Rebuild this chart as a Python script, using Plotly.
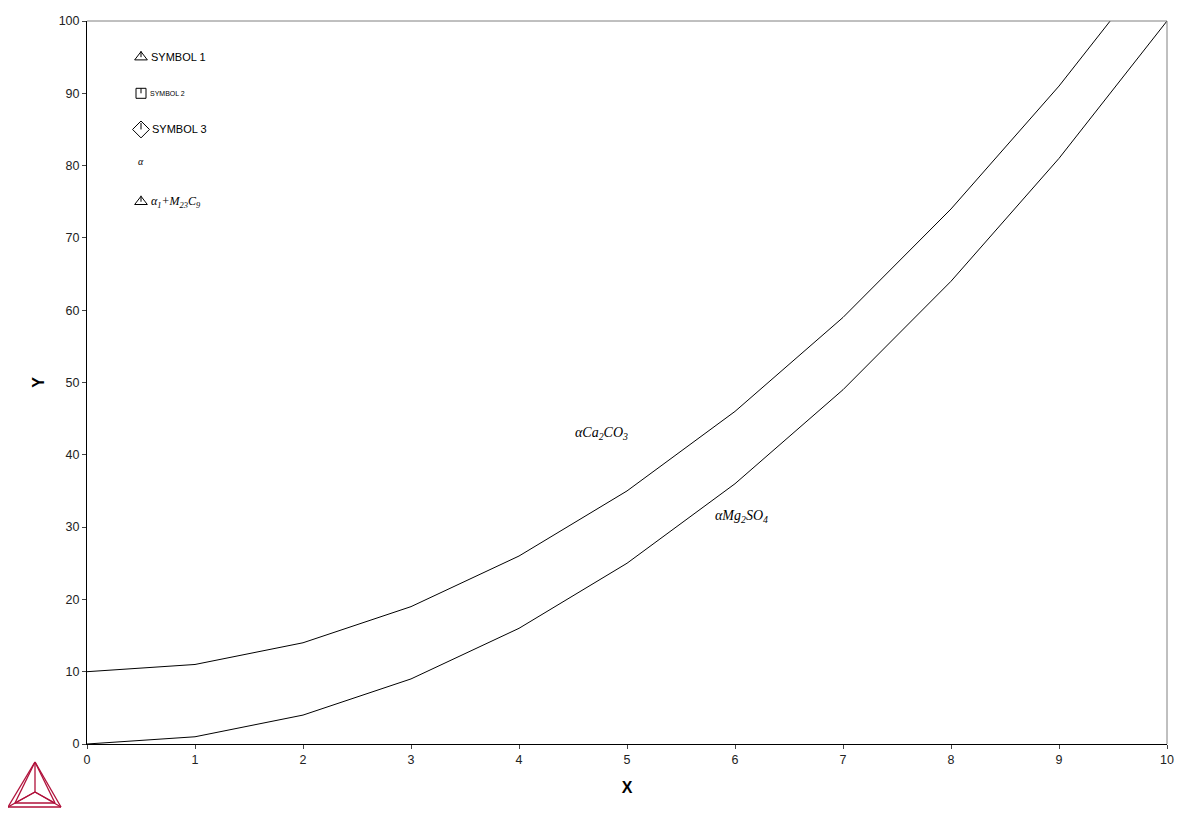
import plotly.graph_objects as go

# ---- data ----
x_vals = [0, 1, 2, 3, 4, 5, 6, 7, 8, 9, 10]
upper_y = [10, 11, 14, 19, 26, 35, 46, 59, 74, 91, 110]
lower_y = [0, 1, 4, 9, 16, 25, 36, 49, 64, 81, 100]

x_ticks = [0, 1, 2, 3, 4, 5, 6, 7, 8, 9, 10]
y_ticks = [0, 10, 20, 30, 40, 50, 60, 70, 80, 90, 100]

legend_x = [0.5, 0.5, 0.5, 0.5, 0.5]
legend_y = [95, 90, 85, 80, 75]
legend_symbols = ["triangle-up-open", "square-open", "diamond-open", None, "triangle-up-open"]
legend_sizes = [11, 10, 13, 0, 11]
legend_labels = ["SYMBOL 1", "SYMBOL 2", "SYMBOL 3", "α",
                 "α<sub>1</sub>+M<sub>23</sub>C<sub>9</sub>"]
legend_label_sizes = [11, 7, 11, 10, 12]
legend_label_fonts = ["Liberation Sans", "Liberation Sans", "Liberation Sans",
                      "Liberation Serif", "Liberation Serif"]

phase_labels = ["αCa<sub>2</sub>CO<sub>3</sub>", "αMg<sub>2</sub>SO<sub>4</sub>"]
phase_x = [4.5, 5.8]
phase_y = [43, 31.5]

# page has an 8px body margin; figure is placed at (8, 8)
OFF = 8
W, H = 1174, 804
PL, PR, PT, PB = 87, 1167, 21, 744          # plot area in page pixels
ML, MT = PL - OFF, PT - OFF
MR, MB = OFF + W - PR, OFF + H - PB
PW, PH = PR - PL, PB - PT

fig = go.Figure()
fig.add_trace(go.Scatter(x=x_vals, y=upper_y, mode="lines",
                         line=dict(color="black", width=1), showlegend=False))
fig.add_trace(go.Scatter(x=x_vals, y=lower_y, mode="lines",
                         line=dict(color="black", width=1), showlegend=False))

shapes = []
annotations = []
for xv, yv, sym, sz, lab, lsz, lf in zip(legend_x, legend_y, legend_symbols, legend_sizes,
                                         legend_labels, legend_label_sizes, legend_label_fonts):
    if sym is not None:
        fig.add_trace(go.Scatter(x=[xv], y=[yv], mode="markers", showlegend=False,
                                 marker=dict(symbol=sym, size=sz, color="black",
                                             line=dict(color="black", width=1))))
        top = sz / 2.0 if not sym.startswith("triangle") else sz * 0.55
        shapes.append(dict(type="line", xref="x", yref="y", xsizemode="pixel",
                           ysizemode="pixel", xanchor=xv, yanchor=yv,
                           x0=0, x1=0, y0=top, y1=0,
                           line=dict(color="black", width=1)))
        label = lab if lf == "Liberation Sans" else "<i>" + lab + "</i>"
        annotations.append(dict(x=xv, y=yv, xref="x", yref="y", text=label, showarrow=False,
                                xanchor="left", xshift=sz / 2 + 2,
                                font=dict(family=lf, size=lsz, color="black")))
    else:
        annotations.append(dict(x=xv, y=yv, xref="x", yref="y", text="<i>" + lab + "</i>",
                                showarrow=False, xanchor="center", yshift=4,
                                font=dict(family=lf, size=lsz, color="black")))

for lab, xv, yv in zip(phase_labels, phase_x, phase_y):
    annotations.append(dict(x=xv, y=yv, xref="x", yref="y", text="<i>" + lab + "</i>",
                            showarrow=False, xanchor="left",
                            font=dict(family="Liberation Serif", size=14, color="black")))

# grey top/right frame
shapes.append(dict(type="line", xref="paper", yref="paper", x0=0, x1=1, y0=1, y1=1,
                   line=dict(color="#808080", width=1)))
shapes.append(dict(type="line", xref="paper", yref="paper", x0=1, x1=1, y0=0, y1=1,
                   line=dict(color="#808080", width=1)))

# logo (page pixel positions -> paper coords)
def px(xp):
    return (xp - PL) / PW

def py(yp):
    return (PB - yp) / PH

logo_col = "#B0103A"
apex, bl, br, ctr = (35, 762), (8, 807), (61, 807), (35, 792)
ibl, ibr = (15, 803), (55, 803)
segs = [(apex, bl), (bl, br), (br, apex), (ctr, apex), (ctr, bl), (ctr, br),
        (apex, ibl), (apex, ibr), (ibl, ibr), (ctr, ibl), (ctr, ibr)]
for a, b in segs:
    shapes.append(dict(type="line", xref="paper", yref="paper",
                       x0=px(a[0]), y0=py(a[1]), x1=px(b[0]), y1=py(b[1]),
                       line=dict(color=logo_col, width=1.3)))

fig.update_layout(
    width=W, height=H,
    margin=dict(l=ML, r=MR, t=MT, b=MB, autoexpand=False),
    paper_bgcolor="white", plot_bgcolor="white",
    font=dict(family="Liberation Sans", size=12, color="black"),
    shapes=shapes, annotations=annotations,
    xaxis=dict(range=[0, 10], tickvals=x_ticks, ticks="outside", ticklen=4,
               showgrid=False, zeroline=False, showline=True, linecolor="black",
               linewidth=1, tickfont=dict(size=12.5, color="#222"),
               title=dict(text="<b>X</b>", font=dict(size=16, color="black"), standoff=15)),
    yaxis=dict(range=[0, 100], tickvals=y_ticks, ticks="outside", ticklen=4,
               showgrid=False, zeroline=False, showline=True, linecolor="black",
               linewidth=1, tickfont=dict(size=12.5, color="#222"),
               title=dict(text="<b>Y</b>", font=dict(size=16, color="black"), standoff=10)),
)

fig.write_html("out.html")
